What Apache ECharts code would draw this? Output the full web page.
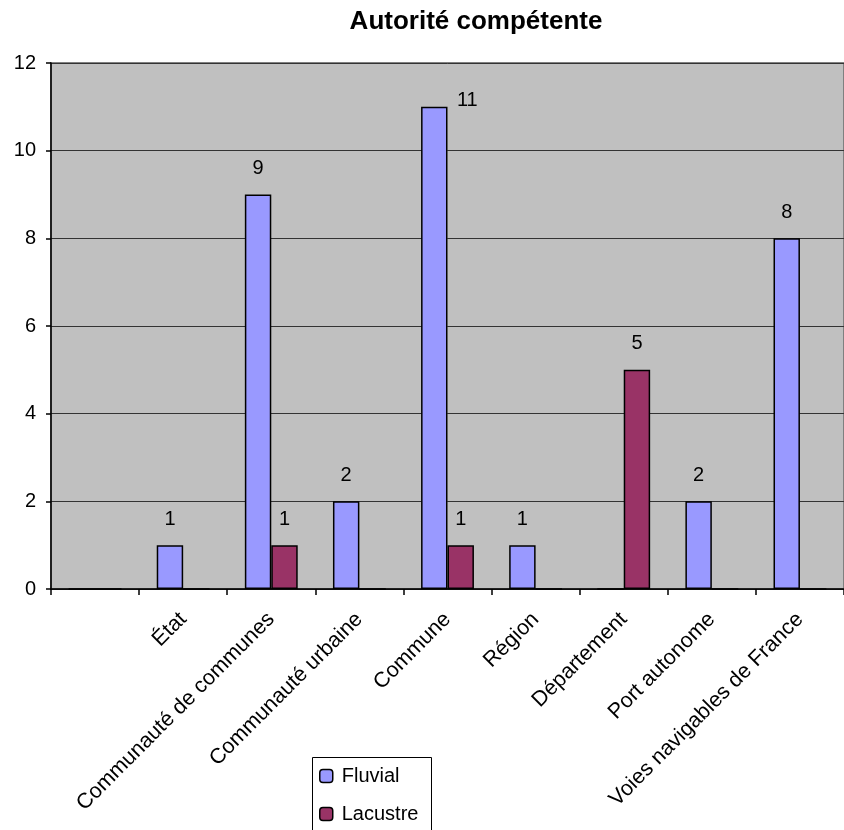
<!DOCTYPE html>
<html>
<head>
<meta charset="utf-8">
<script src="https://cdn.jsdelivr.net/npm/echarts@6/dist/echarts.min.js"></script>
<style>
html,body{margin:0;padding:0;background:#fff;}
#chart{width:844px;height:830px;}
</style>
</head>
<body>
<div id="chart"></div>
<script>
const categories = ['', 'État', 'Communauté de communes', 'Communauté urbaine', 'Commune', 'Région', 'Département', 'Port autonome', 'Voies navigables de France'];
const fluvial = [0, 1, 9, 2, 11, 1, 0, 2, 8];
const lacustre = [0, 0, 1, 0, 1, 0, 5, 0, 0];
const yTicks = [0, 2, 4, 6, 8, 10, 12];
const seriesNames = ['Fluvial', 'Lacustre'];

const FONT = 'Arial, "Liberation Sans", sans-serif';
const chart = echarts.init(document.getElementById('chart'));

function labelCfg() {
  return {
    show: true, position: 'top', distance: 16,
    color: '#000', fontSize: 20, fontFamily: FONT,
    formatter: p => (p.value ? String(p.value) : '')
  };
}

const fluvialData = fluvial.map((v, i) => {
  if (categories[i] === 'Commune') {
    return { value: v, label: { offset: [33, 20] } };
  }
  return v;
});

function legendCfg(name, top) {
  return {
    orient: 'vertical', left: 319, top: top,
    padding: 0,
    itemWidth: 13, itemHeight: 13, itemGap: 0,
    z: 10,
    itemStyle: { borderColor: '#000', borderWidth: 1.5 },
    textStyle: { fontSize: 20, color: '#000', fontFamily: FONT, padding: [0, 0, 0, 4] },
    data: [name]
  };
}

chart.setOption({
  animation: false,
  backgroundColor: '#fff',
  textStyle: { fontFamily: FONT },
  title: {
    text: 'Autorité compétente',
    left: 476, top: 9, textAlign: 'center', padding: 0,
    textStyle: { fontSize: 26, fontWeight: 'bold', color: '#000', fontFamily: FONT }
  },
  grid: {
    left: 51, right: -6, top: 63, bottom: 241,
    show: true, backgroundColor: '#c0c0c0', borderColor: '#808080', borderWidth: 2,
    containLabel: false
  },
  graphic: [{
    type: 'rect', z: 1,
    shape: { x: 312.5, y: 757.5, width: 119, height: 100 },
    style: { fill: '#fff', stroke: '#000', lineWidth: 1 }
  }],
  legend: [legendCfg(seriesNames[0], 766), legendCfg(seriesNames[1], 804)],
  xAxis: {
    type: 'category', data: categories,
    axisLine: { show: true, lineStyle: { color: '#000', width: 1.5 } },
    axisTick: { show: true, length: 6, lineStyle: { color: '#000', width: 1.5 } },
    axisLabel: { rotate: 45, fontSize: 21.5, color: '#000', fontFamily: FONT, margin: 27, interval: 0 },
    splitLine: { show: false }
  },
  yAxis: {
    type: 'value', min: 0, max: 12, interval: 2,
    axisLine: { show: true, lineStyle: { color: '#000', width: 1.5 } },
    axisTick: { show: true, length: 5, lineStyle: { color: '#000', width: 1.5 } },
    axisLabel: { fontSize: 20, color: '#000', fontFamily: FONT, margin: 15,
      formatter: v => (yTicks.includes(v) ? String(v) : '') },
    splitLine: { show: true, lineStyle: { color: '#333', width: 1 } }
  },
  series: [
    {
      name: seriesNames[0], type: 'bar', data: fluvialData,
      barGap: '0%', barCategoryGap: '40%',
      itemStyle: { color: '#9999ff', borderColor: '#000', borderWidth: 1.5 },
      label: labelCfg()
    },
    {
      name: seriesNames[1], type: 'bar', data: lacustre,
      barGap: '0%', barCategoryGap: '40%',
      itemStyle: { color: '#993366', borderColor: '#000', borderWidth: 1.5 },
      label: labelCfg()
    }
  ]
});
</script>
</body>
</html>
